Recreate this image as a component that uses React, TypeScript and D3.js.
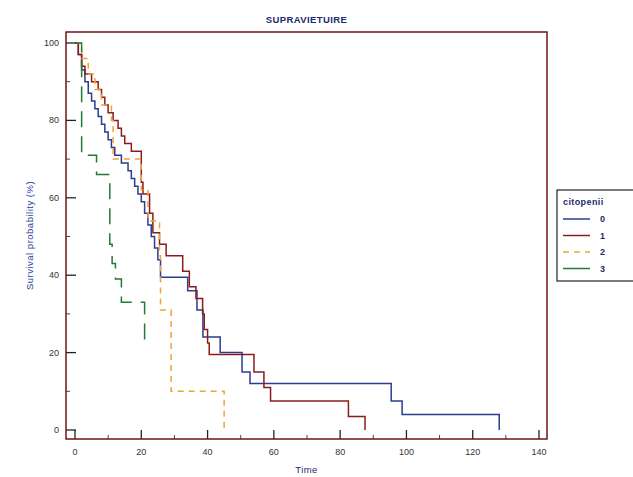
import React from 'react';
import * as d3 from 'd3';

// Kaplan-Meier step points: [time, survival %] after each event
const group0: [number, number][] = [
  [0, 100], [1, 97], [2, 93], [3, 90], [4, 87], [5, 85], [6, 83], [7, 81], [8, 79],
  [9, 77], [10, 75], [11, 73], [12, 71], [14, 69], [16, 67], [17, 65], [18, 63],
  [19, 61], [20, 59], [21, 56], [22, 53], [23, 50], [24, 47], [25, 44], [25.8, 39.5],
  [34, 36], [36.8, 31], [38.6, 24], [43.8, 20], [50.4, 15], [52.8, 12], [95.4, 7.5],
  [98.7, 4], [128, 0],
];
const group1: [number, number][] = [
  [0, 100], [1, 97], [2, 94], [3, 92], [5, 90], [7, 88], [8, 86], [9, 84], [10, 82],
  [11.5, 80], [13, 78], [14, 76], [15, 74], [17, 72], [20, 64], [20.5, 61], [22.5, 56],
  [23.5, 51], [25.5, 48], [27.5, 45], [32.5, 41], [34.5, 37], [36.5, 34], [38.5, 30],
  [39, 26], [40, 22.5], [40.5, 19.5], [54, 15], [57, 11], [59, 7.5], [82.5, 3.5], [87.5, 0],
];
const group2: [number, number][] = [
  [0, 100], [2, 96], [4, 92], [6, 88], [8, 84], [11, 80], [11.5, 70], [20, 62],
  [22, 54], [25.5, 45], [25.8, 31], [29, 10], [45, 0],
];
const group3: [number, number][] = [
  [0, 100], [2, 71], [6.5, 66], [10.5, 48], [11.2, 43], [12.2, 39], [14, 33], [21, 22],
];

const seriesNames = ['0', '1', '2', '3'];
const seriesData = [group0, group1, group2, group3];
const seriesColors = ['#2b3d8f', '#8a1c1c', '#f2a23a', '#237a35'];
const seriesDash = ['none', 'none', '6,5', '16,9'];

const xTicks = [0, 20, 40, 60, 80, 100, 120, 140];
const yTicks = [0, 20, 40, 60, 80, 100];

const App = () => {
  const W = 633;
  const H = 477;
  const frame = { left: 66, right: 547, top: 32, bottom: 439 };

  const x = d3.scaleLinear().domain([0, 140]).range([75, 539]);
  const y = d3.scaleLinear().domain([0, 100]).range([430, 43]);

  const line = d3
    .line<[number, number]>()
    .x((d) => x(d[0]))
    .y((d) => y(d[1]))
    .curve(d3.curveStepAfter);

  const minorX = d3.range(10, 140, 20);
  const minorY = d3.range(10, 100, 20);

  const font = 'Arial, "Liberation Sans", sans-serif';
  const legendTop = 190;

  return (
    <svg
      width={W}
      height={H}
      style={{ position: 'absolute', left: 0, top: 0, background: '#fff' }}
      fontFamily={font}
    >
      <text x={(frame.left + frame.right) / 2} y={23} textAnchor="middle" fontSize={9.5}
        fontWeight="bold" fill="#1c2a6e" letterSpacing={0.4}>SUPRAVIETUIRE</text>

      {/* curves */}
      {seriesData.map((d, i) => (
        <path key={i} d={line(d) || ''} fill="none" stroke={seriesColors[i]}
          strokeWidth={1.5} strokeDasharray={seriesDash[i]} />
      ))}

      {/* ticks */}
      {yTicks.map((t) => (
        <g key={'y' + t}>
          <line x1={frame.left} x2={frame.left + 10} y1={y(t)} y2={y(t)} stroke="#222" strokeWidth={1.3} />
          <text x={frame.left - 7} y={y(t) + 3} textAnchor="end" fontSize={9} fill="#333">{t}</text>
        </g>
      ))}
      {minorY.map((t) => (
        <line key={'my' + t} x1={frame.left} x2={frame.left + 4} y1={y(t)} y2={y(t)} stroke="#444" />
      ))}
      {xTicks.map((t) => (
        <g key={'x' + t}>
          <line x1={x(t)} x2={x(t)} y1={frame.bottom} y2={frame.bottom - 9} stroke="#222" strokeWidth={1.3} />
          <text x={x(t)} y={455} textAnchor="middle" fontSize={9} fill="#333">{t}</text>
        </g>
      ))}
      {minorX.map((t) => (
        <line key={'mx' + t} x1={x(t)} x2={x(t)} y1={frame.bottom} y2={frame.bottom - 4} stroke="#444" />
      ))}

      {/* frame */}
      <rect x={frame.left} y={frame.top} width={frame.right - frame.left}
        height={frame.bottom - frame.top} fill="none" stroke="#6e1616" strokeWidth={1.5} />

      <text x={(frame.left + frame.right) / 2} y={473} textAnchor="middle" fontSize={9.5}
        fill="#1c2a6e" letterSpacing={0.4}>Time</text>
      <text transform={`translate(33,${(frame.top + frame.bottom) / 2}) rotate(-90)`}
        textAnchor="middle" fontSize={9.5} fill="#2b3d9f" letterSpacing={0.5}>Survival probability (%)</text>

      {/* legend */}
      <rect x={557} y={legendTop} width={80} height={91} fill="#fff" stroke="#222" strokeWidth={1.2} />
      <text x={563} y={legendTop + 15} fontSize={9} fontWeight="bold" fill="#1c2a6e" letterSpacing={0.4}>citopenii</text>
      {seriesNames.map((n, i) => {
        const ly = legendTop + 29 + i * 16.5;
        return (
          <g key={n}>
            <line x1={563} x2={590} y1={ly} y2={ly} stroke={seriesColors[i]} strokeWidth={1.5}
              strokeDasharray={seriesDash[i] === '16,9' ? 'none' : seriesDash[i]} />
            <text x={600} y={ly + 3} fontSize={9} fontWeight="bold" fill="#1c2a6e">{n}</text>
          </g>
        );
      })}
    </svg>
  );
};

export default App;
